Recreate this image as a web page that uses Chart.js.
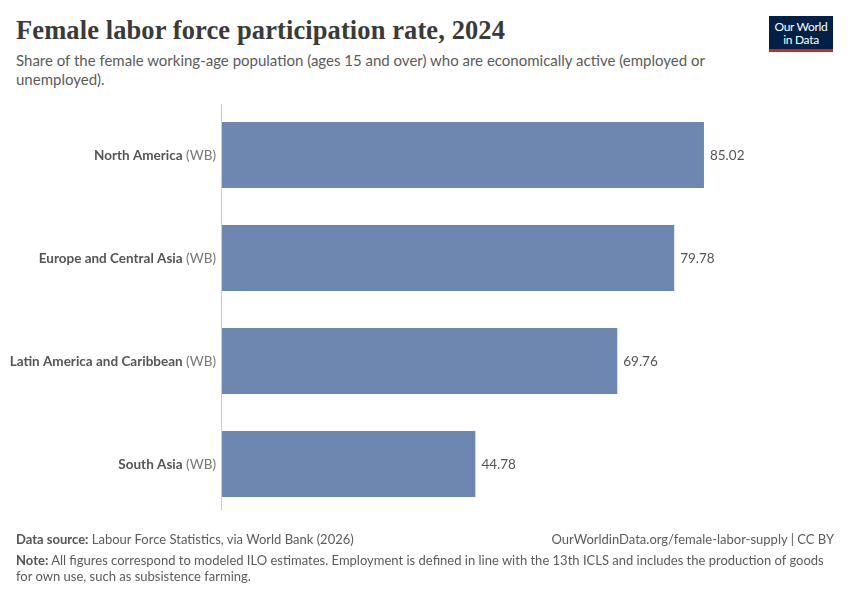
<!DOCTYPE html>
<html>
<head>
<meta charset="utf-8">
<script src="https://cdn.jsdelivr.net/npm/chart.js@4"></script>
<style>
  html,body{margin:0;padding:0;background:#fff;}
  body{width:850px;height:600px;position:relative;overflow:hidden;font-family:Lato,"Noto Sans",sans-serif;}
  #title{position:absolute;left:16px;top:15px;font-family:"Liberation Serif","DejaVu Serif",serif;font-weight:bold;font-size:26.5px;color:#3a3a3a;letter-spacing:0.1px;white-space:nowrap;}
  #subtitle{position:absolute;left:16px;top:51px;width:730px;font-size:15px;line-height:19px;color:#5b5b5b;}
  #logo{position:absolute;left:769px;top:16px;width:64px;height:33px;background:#002147;border-bottom:3px solid #ce261e;color:#fff;font-size:12px;line-height:13px;text-align:center;padding-top:0px;box-sizing:content-box;}
  #logo div{padding-top:4px;letter-spacing:-0.3px;}
  #src{position:absolute;left:16px;top:531px;font-size:13px;color:#5b5b5b;white-space:nowrap;}
  #url{position:absolute;right:16px;top:531px;font-size:13px;color:#5b5b5b;white-space:nowrap;}
  #note{position:absolute;left:16px;top:552px;width:820px;font-size:13px;line-height:16px;color:#5b5b5b;}
  b{font-weight:700;color:#555;}
  #c{position:absolute;left:0;top:0;}
</style>
</head>
<body>
<div id="title">Female labor force participation rate, 2024</div>
<div id="subtitle">Share of the female working-age population (ages 15 and over) who are economically active (employed or unemployed).</div>
<div id="logo"><div>Our World<br>in Data</div></div>
<canvas id="c" width="850" height="600"></canvas>
<div id="src"><b>Data source:</b> Labour Force Statistics, via World Bank (2026)</div>
<div id="url">OurWorldinData.org/female-labor-supply | CC BY</div>
<div id="note"><b>Note:</b> All figures correspond to modeled ILO estimates. Employment is defined in line with the 13th ICLS and includes the production of goods for own use, such as subsistence farming.</div>
<script>
const regions = ["North America", "Europe and Central Asia", "Latin America and Caribbean", "South Asia"];
const suffixes = ["(WB)", "(WB)", "(WB)", "(WB)"];
const values = [85.02, 79.78, 69.76, 44.78];
const valueLabels = ["85.02", "79.78", "69.76", "44.78"];

const labelsPlugin = {
  id: 'owidLabels',
  afterDatasetsDraw(chart) {
    const ctx = chart.ctx;
    const y = chart.scales.y;
    const area = chart.chartArea;
    ctx.save();
    ctx.strokeStyle = '#cccccc';
    ctx.lineWidth = 1;
    ctx.beginPath();
    ctx.moveTo(Math.round(area.left) + 0.5, area.top + 0.5);
    ctx.lineTo(Math.round(area.left) + 0.5, area.bottom - 5);
    ctx.stroke();
    ctx.textBaseline = 'middle';
    regions.forEach((r, i) => {
      const py = y.getPixelForValue(i) + 1;
      const right = area.left - 5;
      ctx.font = '13.5px Lato, "Noto Sans", sans-serif';
      const sw = ctx.measureText(' ' + suffixes[i]).width;
      ctx.fillStyle = '#777';
      ctx.textAlign = 'right';
      ctx.fillText(' ' + suffixes[i], right, py);
      ctx.font = 'bold 13.5px Lato, "Noto Sans", sans-serif';
      ctx.fillStyle = '#555';
      ctx.fillText(r, right - sw, py);
    });
    const meta = chart.getDatasetMeta(0);
    ctx.font = '13.5px Lato, "Noto Sans", sans-serif';
    ctx.fillStyle = '#555';
    ctx.textAlign = 'left';
    meta.data.forEach((bar, i) => {
      ctx.fillText(valueLabels[i], bar.x + 6, bar.y + 1);
    });
    ctx.restore();
  }
};

new Chart(document.getElementById('c'), {
  type: 'bar',
  data: {
    labels: regions,
    datasets: [{
      data: values,
      backgroundColor: '#6d87b0',
      borderWidth: 0,
      barPercentage: 0.64,
      categoryPercentage: 1.0
    }]
  },
  options: {
    indexAxis: 'y',
    responsive: false,
    animation: false,
    devicePixelRatio: 1,
    layout: { padding: { left: 0, right: 15.5, top: 103.5, bottom: 84.5 } },
    plugins: { legend: { display: false }, tooltip: { enabled: false } },
    scales: {
      x: { min: 0, max: 108, display: false },
      y: {
        display: true,
        ticks: { display: false },
        grid: { display: false },
        border: { display: false },
        afterFit(scale) { scale.width = 221; }
      }
    }
  },
  plugins: [labelsPlugin]
});
</script>
</body>
</html>
